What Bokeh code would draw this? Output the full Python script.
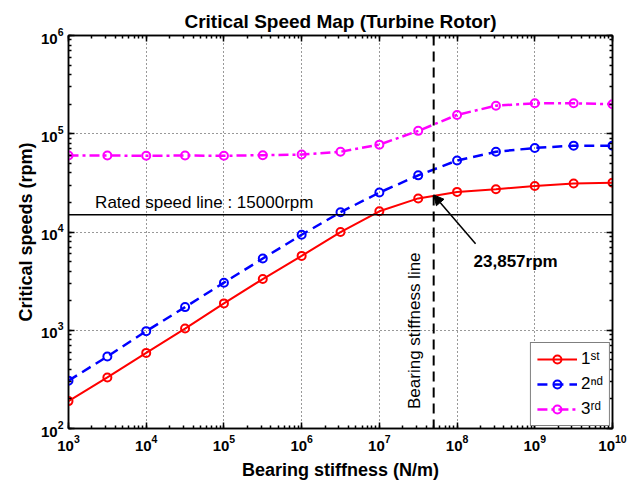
from bokeh.plotting import figure
from bokeh.models import Span, Arrow, NormalHead, Label, LogAxis, LogTicker
from bokeh.embed import file_html
from bokeh.resources import INLINE

# ---- data ----
stiffness = [1e3, 3.162e3, 1e4, 3.162e4, 1e5, 3.162e5, 1e6, 3.162e6,
             1e7, 3.162e7, 1e8, 3.162e8, 1e9, 3.162e9, 1e10]
first = [190, 331, 588, 1040, 1876, 3320, 5710, 9980,
         16250, 21970, 25600, 27200, 29400, 31100, 31800]
second = [307, 540, 979, 1720, 3050, 5370, 9370, 15880,
          25200, 37700, 53400, 65500, 71700, 75700, 75700]
third = [60000, 60000, 59700, 60000, 59700, 60500, 61400, 65500,
         77500, 107000, 155500, 193000, 204000, 204000, 200000]
labels = ["1\u02e2\u1d57", "2\u207f\u1d48", "3\u02b3\u1d48"]
rated_speed = 15000
bearing_stiffness = 5e7
critical_at_bearing = 23857

FONT = "Liberation Sans"

p = figure(width=636, height=482, x_axis_type="log", y_axis_type="log",
           x_range=(1e3, 1e10), y_range=(1e2, 1e6),
           output_backend="svg", toolbar_location=None,
           title="Critical Speed Map (Turbine Rotor)",
           min_border_left=68, min_border_right=24,
           min_border_top=35, min_border_bottom=51)

p.title.text_font = FONT
p.title.text_font_size = "19px"
p.title.text_font_style = "bold"
p.title.text_color = "black"
p.title.align = "center"
p.title.standoff = 7

p.outline_line_color = "black"
p.outline_line_width = 1.5
p.background_fill_color = "white"
p.border_fill_color = "white"

for ax in (p.xaxis[0], p.yaxis[0]):
    ax.ticker = LogTicker(num_minor_ticks=10)
    ax.major_tick_in = 6
    ax.major_tick_out = 0
    ax.minor_tick_in = 3
    ax.minor_tick_out = 0
    ax.axis_line_color = "black"
    ax.axis_line_width = 1.5
    ax.major_tick_line_width = 1.5
    ax.minor_tick_line_width = 1.5
    ax.major_label_text_font = FONT
    ax.major_label_text_font_size = "15px"
    ax.major_label_text_font_style = "bold"
    ax.major_label_text_color = "black"
    ax.axis_label_text_font = FONT
    ax.axis_label_text_font_size = "18px"
    ax.axis_label_text_font_style = "bold"
    ax.axis_label_text_color = "black"

p.xaxis.axis_label = "Bearing stiffness (N/m)"
p.yaxis.axis_label = "Critical speeds (rpm)"
p.xaxis.major_label_standoff = 6
p.xaxis.axis_label_standoff = 6
p.yaxis.major_label_standoff = 5
p.yaxis.axis_label_standoff = 2

for loc in ("above", "right"):
    ax = LogAxis(ticker=LogTicker(num_minor_ticks=10),
                 major_tick_in=6, major_tick_out=0,
                 minor_tick_in=3, minor_tick_out=0,
                 major_label_text_font_size="2px",
                 major_label_text_alpha=0, major_label_standoff=0,
                 axis_line_color="black", axis_line_width=1.5,
                 major_tick_line_width=1.5, minor_tick_line_width=1.5)
    p.add_layout(ax, loc)

p.grid.grid_line_color = "black"
p.grid.grid_line_alpha = 0.8
p.grid.grid_line_dash = "1 3"
p.grid.grid_line_width = 1

# rated speed line and bearing stiffness line
p.add_layout(Span(location=rated_speed, dimension="width",
                  line_color="black", line_width=1.5))
p.add_layout(Span(location=bearing_stiffness, dimension="height",
                  line_color="black", line_width=2, line_dash="10 6"))

# series
p.line(stiffness, first, line_color="#FF0000", line_width=2,
       legend_label=labels[0])
p.scatter(stiffness, first, marker="circle", size=8, fill_color=None,
          line_color="#FF0000", line_width=2, legend_label=labels[0])

p.line(stiffness, second, line_color="#0000FF", line_width=2.5,
       line_dash="10 6", legend_label=labels[1])
p.scatter(stiffness, second, marker="circle", size=8, fill_color=None,
          line_color="#0000FF", line_width=2, legend_label=labels[1])

p.line(stiffness, third, line_color="#FF00FF", line_width=2.5,
       line_dash="10 4 3 4", legend_label=labels[2])
p.scatter(stiffness, third, marker="circle", size=8, fill_color=None,
          line_color="#FF00FF", line_width=2, legend_label=labels[2])

# annotations
p.add_layout(Label(x=2.2e3, y=19800, text="Rated speed line : 15000rpm",
                   text_font=FONT, text_font_size="17px",
                   text_baseline="alphabetic", text_align="left",
                   text_color="black"))
p.add_layout(Label(x=2.85e7, y=158, text="Bearing stiffness line",
                   angle=1.5708, text_font=FONT, text_font_size="17px",
                   text_baseline="alphabetic", text_align="left",
                   text_color="black"))
p.add_layout(Label(x=1.63e8, y=4980, text="23,857rpm",
                   text_font=FONT, text_font_size="17px",
                   text_font_style="bold",
                   text_baseline="alphabetic", text_align="left",
                   text_color="black"))
p.add_layout(Arrow(end=NormalHead(size=10, fill_color="black",
                                  line_color="black"),
                   x_start=1.73e8, y_start=7600,
                   x_end=bearing_stiffness, y_end=critical_at_bearing,
                   line_color="black", line_width=1.5))

# legend
lg = p.legend[0]
lg.location = "bottom_right"
lg.margin = 2
lg.padding = 6
lg.spacing = 5
lg.glyph_width = 40
lg.glyph_height = 20
lg.label_height = 20
lg.label_standoff = 4
lg.label_text_font = FONT
lg.label_text_font_size = "17px"
lg.label_text_color = "black"
lg.border_line_color = "black"
lg.border_line_width = 1
lg.background_fill_color = "white"
lg.background_fill_alpha = 1

open("out.html", "w").write(file_html(p, INLINE))
